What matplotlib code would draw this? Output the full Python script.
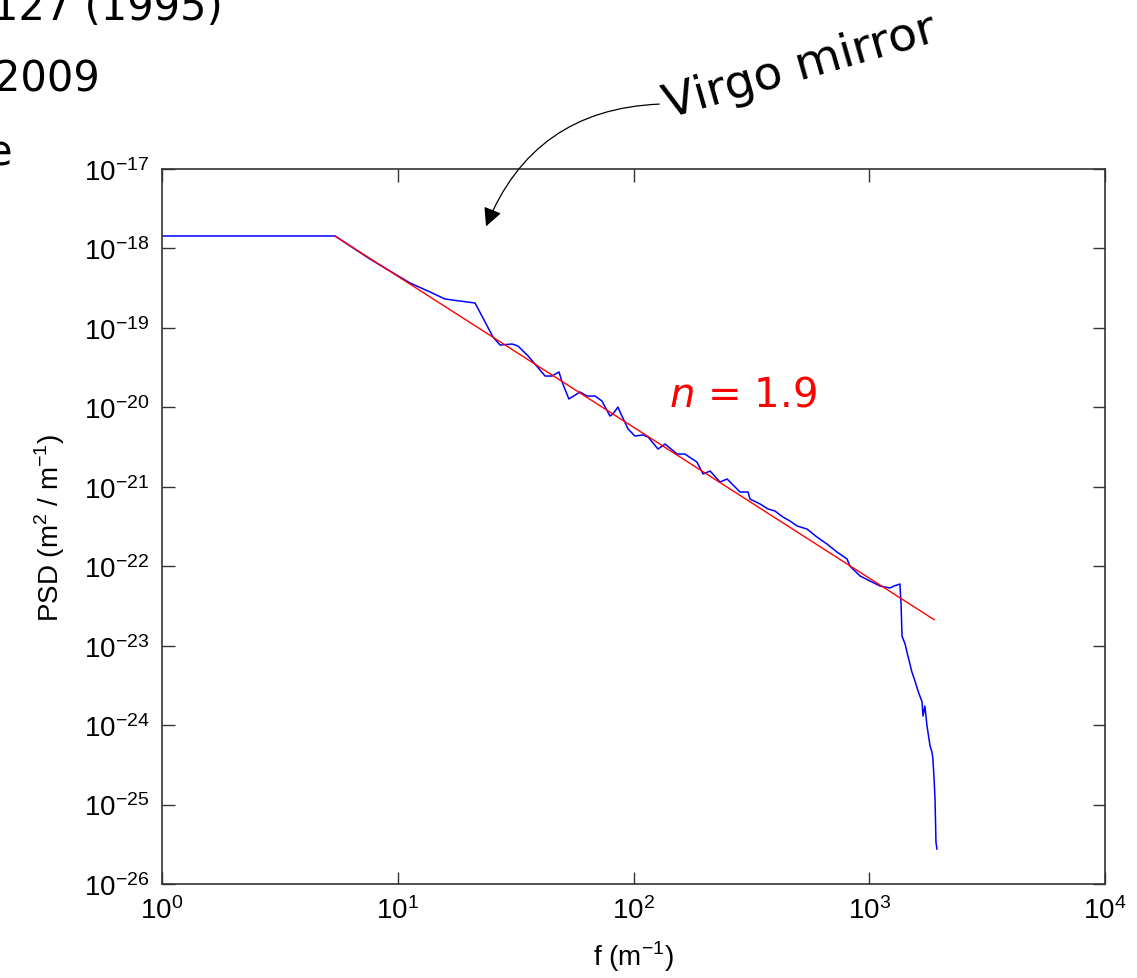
import numpy as np
import matplotlib
matplotlib.use('Agg')
import matplotlib.pyplot as plt
from matplotlib.patches import FancyArrowPatch

plt.rcParams['mathtext.fontset'] = 'custom'
plt.rcParams['mathtext.rm'] = 'Liberation Sans'
plt.rcParams['mathtext.it'] = 'DejaVu Sans:italic'

log_f = [0.000, 0.734, 0.882, 1.052, 1.137, 1.200, 1.264, 1.328, 1.404, 1.434,
         1.485, 1.510, 1.553, 1.582, 1.625, 1.654, 1.684, 1.697, 1.726, 1.773,
         1.803, 1.837, 1.866, 1.900, 1.913, 1.934, 1.943, 1.977, 2.006, 2.040,
         2.062, 2.104, 2.134, 2.185, 2.218, 2.269, 2.295, 2.325, 2.367, 2.397,
         2.418, 2.452, 2.486, 2.494, 2.537, 2.571, 2.600, 2.634, 2.664, 2.694,
         2.736, 2.778, 2.821, 2.863, 2.906, 2.918, 2.961, 3.003, 3.046, 3.088,
         3.105, 3.130, 3.135, 3.139, 3.152, 3.164, 3.181, 3.194, 3.207, 3.224,
         3.228, 3.236, 3.245, 3.258, 3.266, 3.270, 3.275, 3.279, 3.283, 3.287]
log_psd = [-17.843, -17.843, -18.133, -18.435, -18.548, -18.636, -18.662, -18.687, -19.115, -19.216,
           -19.203, -19.228, -19.354, -19.455, -19.606, -19.606, -19.555, -19.681, -19.895, -19.807,
           -19.858, -19.858, -19.920, -20.109, -20.084, -19.996, -20.059, -20.273, -20.361, -20.348,
           -20.374, -20.525, -20.462, -20.588, -20.588, -20.688, -20.839, -20.802, -20.940, -20.902,
           -20.965, -21.066, -21.066, -21.154, -21.217, -21.280, -21.305, -21.381, -21.431, -21.494,
           -21.532, -21.632, -21.721, -21.821, -21.909, -21.998, -22.123, -22.186, -22.249, -22.274,
           -22.249, -22.224, -22.476, -22.879, -22.979, -23.130, -23.332, -23.445, -23.571, -23.709,
           -23.886, -23.760, -24.012, -24.263, -24.339, -24.427, -24.679, -24.931, -25.472, -25.560]

# power-law fit P = A * f^-n
n_fit = 1.9
log_A = -16.45
fit_range = [5.42, 1884.0]

f = 10 ** np.array(log_f)
psd = 10 ** np.array(log_psd)
f_fit = np.logspace(np.log10(fit_range[0]), np.log10(fit_range[1]), 50)
psd_fit = 10 ** log_A * f_fit ** (-n_fit)

W, H = 1137, 979
fig = plt.figure(figsize=(W / 100, H / 100), dpi=100)
ax = fig.add_axes([162 / W, 1 - 885 / H, (1105 - 162) / W, (885 - 170) / H])

ax.plot(f, psd, color='#0000ff', lw=1.1)
ax.plot(f_fit, psd_fit, color='#ff0000', lw=1.0)

ax.set_xscale('log')
ax.set_yscale('log')
ax.set_xlim(1, 1e4)
ax.set_ylim(1e-26, 1e-17)
ax.set_xticks([10.0 ** k for k in range(0, 5)])
ax.set_yticks([10.0 ** k for k in range(-26, -16)])
ax.minorticks_off()
ax.tick_params(which='major', direction='in', length=9, width=1, color='#333333',
               top=True, right=True, labelsize=20, labelfontfamily='Liberation Sans', pad=9)
for sp in ax.spines.values():
    sp.set_color('#333333')
    sp.set_linewidth(1.2)

ax.set_xlabel(r'f (m$^{-1}$)', fontsize=20, family='Liberation Sans', labelpad=10)
ax.set_ylabel(r'PSD (m$^{2}$ / m$^{-1}$)', fontsize=20, family='Liberation Sans', labelpad=12)

ax.text(0.538, 0.685, r'$n$ = 1.9', transform=ax.transAxes, color='#ff0000',
        fontsize=29, family='DejaVu Sans', va='center', ha='left')

# pointer to the mirror spectrum
fig.text(668 / W, 1 - 118 / H, 'Virgo mirror', fontsize=34, family='DejaVu Sans',
         rotation=16, rotation_mode='anchor', ha='left', va='baseline')
arrow = FancyArrowPatch((662, H - 105), (485, H - 230), transform=None,
                        connectionstyle='arc3,rad=0.33', arrowstyle='-|>',
                        mutation_scale=28, lw=0.9, color='black')
fig.patches.append(arrow)

# slide text running in from the left edge
for txt, xr, yb in [('127 (1995)', 223, 20), ('2009', 100, 92), ('e', 12, 165)]:
    fig.text(xr / W, 1 - yb / H, txt, fontsize=30, family='DejaVu Sans',
             ha='right', va='baseline')

fig.savefig('out.png', dpi=100)
